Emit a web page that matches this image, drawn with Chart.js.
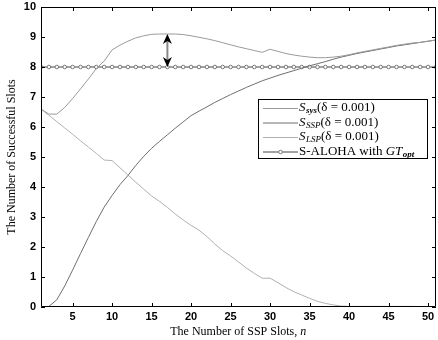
<!DOCTYPE html>
<html>
<head>
<meta charset="utf-8">
<script src="https://cdn.jsdelivr.net/npm/chart.js@4.4.1/dist/chart.umd.min.js"></script>
<style>
  html, body { margin: 0; padding: 0; background: #fff; }
  #wrap { width: 438px; height: 340px; }
</style>
</head>
<body>
<div id="wrap"><canvas id="slots" width="438" height="340"></canvas></div>

<script>
// number of SSP slots n = 1..51
const slots = [];
for (let n = 1; n <= 51; n++) slots.push(n);

const sysValues = [6.60, 6.43, 6.43, 6.65, 6.95, 7.27, 7.60, 7.95, 8.20, 8.57,
                   8.73, 8.86, 8.97, 9.04, 9.09, 9.10, 9.10, 9.10, 9.08, 9.04,
                   8.99, 8.94, 8.88, 8.81, 8.74, 8.67, 8.61, 8.55, 8.49, 8.59,
                   8.52, 8.45, 8.40, 8.36, 8.33, 8.31, 8.31, 8.33, 8.36, 8.41,
                   8.47, 8.52, 8.57, 8.62, 8.67, 8.72, 8.76, 8.80, 8.82, 8.86, 8.90];

const sspValues = [0.00, 0.02, 0.24, 0.70, 1.23, 1.78, 2.32, 2.85, 3.33, 3.72,
                   4.08, 4.38, 4.72, 5.02, 5.29, 5.52, 5.74, 5.96, 6.17, 6.38,
                   6.53, 6.67, 6.82, 6.95, 7.08, 7.20, 7.32, 7.43, 7.54, 7.63,
                   7.72, 7.80, 7.88, 7.96, 8.04, 8.11, 8.18, 8.26, 8.33, 8.39,
                   8.45, 8.50, 8.55, 8.60, 8.65, 8.70, 8.74, 8.78, 8.82, 8.86, 8.90];

const lspValues = [6.60, 6.39, 6.18, 5.97, 5.76, 5.54, 5.33, 5.12, 4.90, 4.88,
                   4.64, 4.40, 4.16, 3.93, 3.70, 3.52, 3.32, 3.10, 2.90, 2.72,
                   2.56, 2.35, 2.10, 1.88, 1.70, 1.50, 1.30, 1.12, 0.96, 0.96,
                   0.81, 0.65, 0.51, 0.40, 0.29, 0.19, 0.12, 0.07, 0.03, 0.02,
                   0.02, 0.02, 0.02, 0.02, 0.02, 0.02, 0.02, 0.02, 0.00, 0.00, 0.00];

const alohaValues = slots.map(() => 8);

const xTicks = [5, 10, 15, 20, 25, 30, 35, 40, 45, 50];
const yTicks = [0, 1, 2, 3, 4, 5, 6, 7, 8, 9, 10];

// the double arrow showing the gain over S-ALOHA
const arrowN = 17;
const arrowRange = [8, 9.1];

const serif = '"Liberation Serif", "DejaVu Serif", serif';
const sans = '"Liberation Sans", Arial, sans-serif';

function pts(values) {
    return slots.map((n, i) => ({ x: n, y: values[i] }));
}

// draw a run of [text, style] pieces, styles: n normal, i italic, si/sb subscript
function drawParts(ctx, parts, x, y, size, dry) {
    const sub = Math.round(size * 0.7);
    parts.forEach(([t, s]) => {
        let dy = 0;
        if (s === 'i') ctx.font = 'italic ' + size + 'px ' + serif;
        else if (s === 'n') ctx.font = size + 'px ' + serif;
        else if (s === 'si') { ctx.font = 'italic ' + sub + 'px ' + serif; dy = 3; }
        else { ctx.font = 'italic bold ' + sub + 'px ' + serif; dy = 3; }
        if (!dry) ctx.fillText(t, x, y + dy);
        x += ctx.measureText(t).width + (s === 'i' ? 0.5 : 0);
    });
    return x;
}

// frame, inward ticks, arrow and x title
const framePlugin = {
    id: 'frame',
    afterDatasetsDraw(chart) {
        const { ctx, chartArea: a, scales } = chart;
        ctx.save();
        ctx.strokeStyle = '#000';
        ctx.lineWidth = 1;
        ctx.beginPath();
        ctx.rect(a.left + 0.5, a.top + 0.5, a.right - a.left - 1, a.bottom - a.top - 1);
        ctx.stroke();
        ctx.beginPath();
        xTicks.forEach(v => {
            const px = Math.round(scales.x.getPixelForValue(v)) + 0.5;
            ctx.moveTo(px, a.bottom); ctx.lineTo(px, a.bottom - 4);
            ctx.moveTo(px, a.top); ctx.lineTo(px, a.top + 4);
        });
        yTicks.forEach(v => {
            const py = Math.round(scales.y.getPixelForValue(v)) + 0.5;
            ctx.moveTo(a.left, py); ctx.lineTo(a.left + 4, py);
            ctx.moveTo(a.right, py); ctx.lineTo(a.right - 4, py);
        });
        ctx.stroke();

        // arrow
        const ax = scales.x.getPixelForValue(arrowN);
        const y0 = scales.y.getPixelForValue(arrowRange[0]);
        const y1 = scales.y.getPixelForValue(arrowRange[1]);
        ctx.strokeStyle = '#888';
        ctx.lineWidth = 2;
        ctx.beginPath();
        ctx.moveTo(ax, y1 + 6); ctx.lineTo(ax, y0 - 6);
        ctx.stroke();
        ctx.fillStyle = '#000';
        ctx.beginPath();
        ctx.moveTo(ax, y1); ctx.lineTo(ax - 4.5, y1 + 10); ctx.lineTo(ax, y1 + 7); ctx.lineTo(ax + 4.5, y1 + 10);
        ctx.closePath(); ctx.fill();
        ctx.beginPath();
        ctx.moveTo(ax, y0); ctx.lineTo(ax - 4.5, y0 - 10); ctx.lineTo(ax, y0 - 7); ctx.lineTo(ax + 4.5, y0 - 10);
        ctx.closePath(); ctx.fill();

        // x axis title with italic n
        const title = [['The Number of SSP Slots, ', 'n'], ['n', 'i']];
        ctx.textBaseline = 'middle';
        const w = drawParts(ctx, title, 0, 0, 12, true);
        drawParts(ctx, title, (a.left + a.right) / 2 - w / 2, 332, 12);
        ctx.restore();
    }
};

// legend box inside the plot, with subscripted labels
const legendPlugin = {
    id: 'mathLegend',
    afterDraw(chart) {
        const { ctx, chartArea: a } = chart;
        const bx = a.right - 178, by = a.top + 92, bw = 169, bh = 59;
        ctx.save();
        ctx.fillStyle = '#fff';
        ctx.fillRect(bx, by, bw, bh);
        ctx.strokeStyle = '#000';
        ctx.lineWidth = 1;
        ctx.strokeRect(bx + 0.5, by + 0.5, bw, bh);

        const rows = [
            { color: '#9a9a9a', parts: [['S', 'i'], ['sys', 'sb'], ['(δ = 0.001)', 'n']] },
            { color: '#6e6e6e', parts: [['S', 'i'], ['SSP', 'si'], ['(δ = 0.001)', 'n']] },
            { color: '#b0b0b0', parts: [['S', 'i'], ['LSP', 'si'], ['(δ = 0.001)', 'n']] },
            { color: '#444', marker: true, parts: [['S-ALOHA with ', 'n'], ['GT', 'i'], ['opt', 'sb']] }
        ];
        rows.forEach((r, i) => {
            const y = by + 9 + i * 14.5;
            ctx.strokeStyle = r.color;
            ctx.lineWidth = 1;
            ctx.beginPath();
            ctx.moveTo(bx + 5, y + 0.5); ctx.lineTo(bx + 40, y + 0.5);
            ctx.stroke();
            if (r.marker) {
                ctx.fillStyle = '#fff';
                ctx.strokeStyle = '#777';
                ctx.beginPath();
                ctx.arc(bx + 22.5, y + 0.5, 1.8, 0, Math.PI * 2);
                ctx.fill(); ctx.stroke();
            }
            ctx.fillStyle = '#000';
            ctx.textBaseline = 'middle';
            drawParts(ctx, r.parts, bx + 41, y, 13);
        });
        ctx.restore();
    }
};

const ctx = document.getElementById('slots').getContext('2d');
const chart = new Chart(ctx, {
    type: 'line',
    data: {
        datasets: [
            { label: 'S_sys', data: pts(sysValues), borderColor: '#9a9a9a', borderWidth: 1, pointRadius: 0 },
            { label: 'S_SSP', data: pts(sspValues), borderColor: '#6e6e6e', borderWidth: 1, pointRadius: 0 },
            { label: 'S_LSP', data: pts(lspValues), borderColor: '#b0b0b0', borderWidth: 1, pointRadius: 0 },
            { label: 'S-ALOHA', data: pts(alohaValues), borderColor: '#444', borderWidth: 1,
              pointRadius: 1.8, pointBorderColor: '#777', pointBackgroundColor: '#fff', pointBorderWidth: 1 }
        ]
    },
    options: {
        responsive: false,
        animation: false,
        events: [],
        layout: { autoPadding: false, padding: { left: 0, right: 2, top: 7, bottom: 0 } },
        plugins: { legend: { display: false }, tooltip: { enabled: false } },
        scales: {
            x: {
                type: 'linear', min: 1, max: 51,
                afterBuildTicks: s => { s.ticks = xTicks.map(v => ({ value: v })); },
                afterFit: s => { s.height = 33; s.paddingLeft = 0; s.paddingRight = 0; },
                grid: { display: false, drawTicks: false }, border: { display: false },
                ticks: { padding: 3, color: '#000', font: { family: sans, size: 11, weight: 'bold' } },
                title: { display: false }
            },
            y: {
                min: 0, max: 10,
                afterBuildTicks: s => { s.ticks = yTicks.map(v => ({ value: v })); },
                afterFit: s => { s.width = 41; s.paddingTop = 0; s.paddingBottom = 0; },
                grid: { display: false, drawTicks: false }, border: { display: false },
                ticks: { padding: 5, color: '#000', font: { family: sans, size: 11, weight: 'bold' } },
                title: { display: true, text: 'The Number of Successful Slots', color: '#000',
                         padding: { top: 5, bottom: 0 }, font: { family: serif, size: 12 } }
            }
        }
    },
    plugins: [framePlugin, legendPlugin]
});
</script>
</body>
</html>
